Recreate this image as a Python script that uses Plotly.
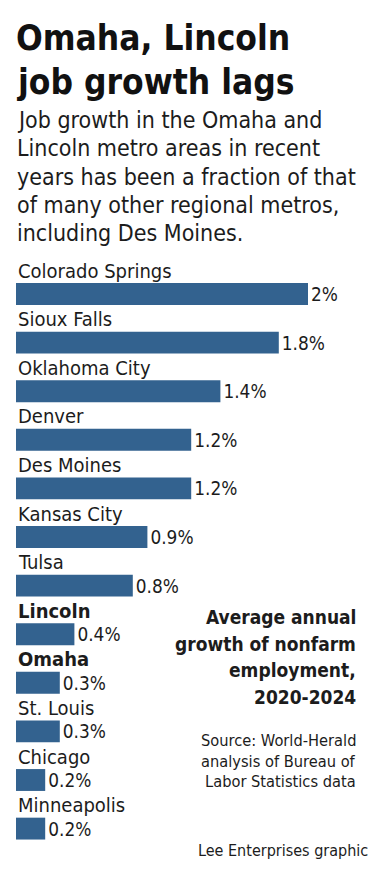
import plotly.graph_objects as go

cities = ["Colorado Springs", "Sioux Falls", "Oklahoma City", "Denver", "Des Moines",
          "Kansas City", "Tulsa", "Lincoln", "Omaha", "St. Louis", "Chicago", "Minneapolis"]
growth = [2.0, 1.8, 1.4, 1.2, 1.2, 0.9, 0.8, 0.4, 0.3, 0.3, 0.2, 0.2]
value_labels = ["2%", "1.8%", "1.4%", "1.2%", "1.2%", "0.9%", "0.8%", "0.4%", "0.3%", "0.3%", "0.2%", "0.2%"]
highlight = ["Lincoln", "Omaha"]

title_lines = ["Omaha, Lincoln", "job growth lags"]
subtitle_lines = ["Job growth in the Omaha and", "Lincoln metro areas in recent",
                  "years has been a fraction of that", "of many other regional metros,",
                  "including Des Moines."]
note_lines = ["Average annual", "growth of nonfarm", "employment,", "2020-2024"]
source_lines = ["Source: World-Herald", "analysis of Bureau of", "Labor Statistics data"]
credit = "Lee Enterprises graphic"

W, H = 383, 881
X0 = 16          # px left of bars
PX_PER_PCT = 146
FIRST = 294      # px centre of first bar
PITCH = 48.6

BODY = "DejaVu Sans Condensed, DejaVu Sans, sans-serif"
TITLE = "DejaVu Sans Condensed, DejaVu Sans, sans-serif"
INK = "#1c1c1c"
BAR = "#33628f"

fig = go.Figure(go.Bar(
    x=growth, y=cities, orientation="h", width=0.45,
    marker=dict(color=BAR, line=dict(width=0)),
    text=value_labels, textposition="outside", cliponaxis=False,
    textfont=dict(family=BODY, size=19, color=INK),
    hoverinfo="skip",
))

def py(p):
    return 1 - p / H

ann = []
for i, t in enumerate(title_lines):
    ann.append(dict(text=f"<b>{t}</b>", x=14 / W, y=py([38, 82][i]), xref="paper", yref="paper",
                    xanchor="left", yanchor="middle", showarrow=False,
                    font=dict(family=TITLE, size=35, color="#111")))
for i, t in enumerate(subtitle_lines):
    ann.append(dict(text=t, x=15 / W, y=py(120 + 28.3 * i), xref="paper", yref="paper",
                    xanchor="left", yanchor="middle", showarrow=False,
                    font=dict(family=BODY, size=23, color=INK)))
for c in cities:
    txt = f"<b>{c}</b>" if c in highlight else c
    ann.append(dict(text=txt, x=0, y=c, xref="x", yref="y", yshift=23.5,
                    xanchor="left", yanchor="middle", showarrow=False,
                    font=dict(family=BODY, size=20, color=INK)))
for i, t in enumerate(note_lines):
    ann.append(dict(text=f"<b>{t}</b>", x=358 / W, y=py(617 + 26.7 * i), xref="paper", yref="paper",
                    xanchor="right", yanchor="middle", showarrow=False,
                    font=dict(family=BODY, size=19, color=INK)))
for i, t in enumerate(source_lines):
    ann.append(dict(text=t, x=358 / W, y=py(740.5 + 20.5 * i), xref="paper", yref="paper",
                    xanchor="right", yanchor="middle", showarrow=False,
                    font=dict(family=BODY, size=16.3, color=INK)))
ann.append(dict(text=credit, x=370 / W, y=py(850), xref="paper", yref="paper",
                xanchor="right", yanchor="middle", showarrow=False,
                font=dict(family=BODY, size=16, color=INK)))

fig.update_layout(
    width=W, height=H, margin=dict(l=0, r=0, t=0, b=0),
    paper_bgcolor="white", plot_bgcolor="white", showlegend=False,
    xaxis=dict(range=[-X0 / PX_PER_PCT, (W - X0) / PX_PER_PCT], visible=False, fixedrange=True),
    yaxis=dict(type="category", categoryorder="array", categoryarray=cities,
               range=[(H - FIRST) / PITCH, -FIRST / PITCH], visible=False, fixedrange=True),
    annotations=ann,
)
fig.write_html("out.html", config={"displayModeBar": False},
               post_script="document.body.style.margin='0';document.body.style.overflow='hidden';")
